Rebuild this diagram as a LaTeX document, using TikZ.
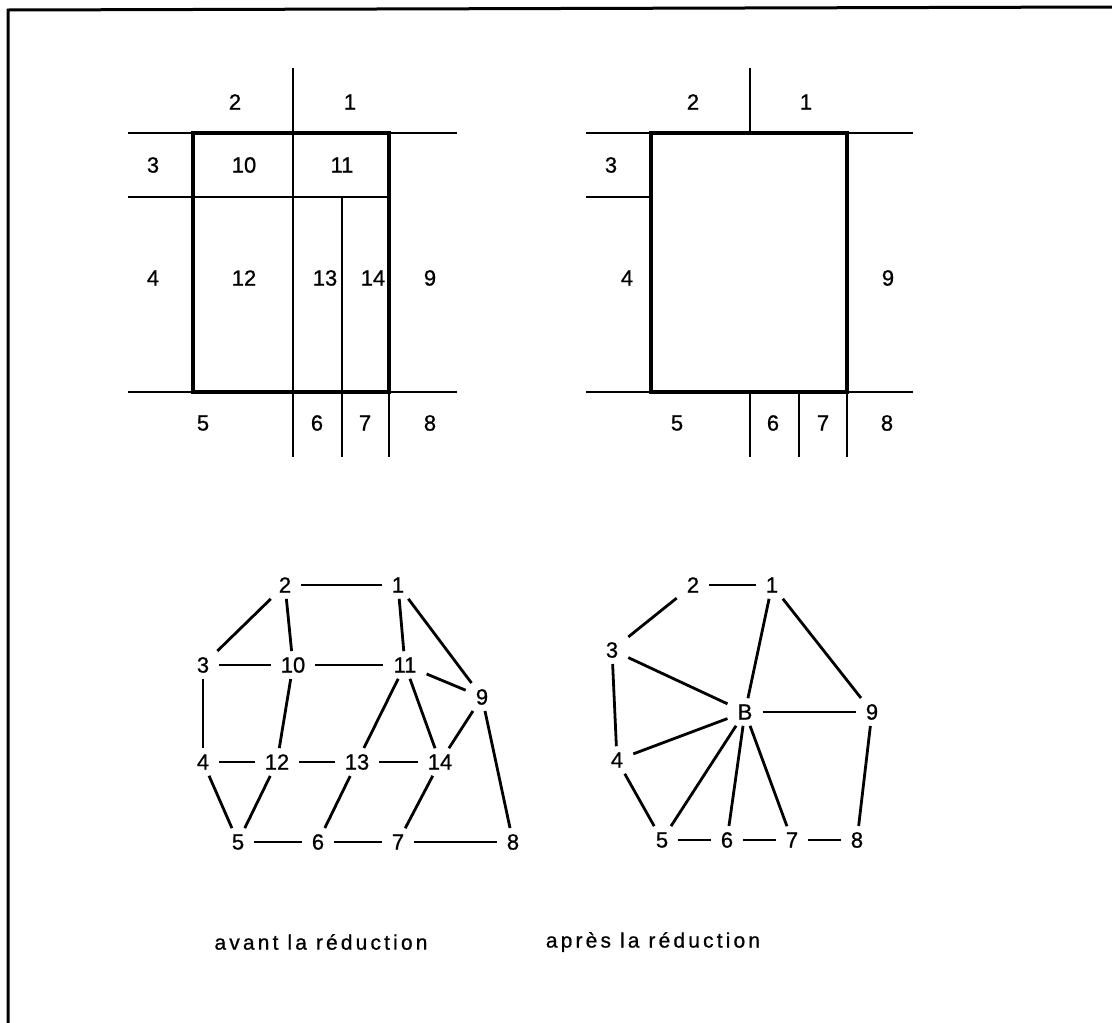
\documentclass[tikz,border=0pt]{standalone}
\usepackage{fontspec}
\setmainfont{Liberation Sans}
\begin{document}
\begin{tikzpicture}[
x=1pt, y=-1pt,
every node/.style={font=\fontsize{22}{26}\selectfont\addfontfeature{FakeBold=0.8}},
frame/.style={line width=3pt},
wall/.style={line width=2pt},
block/.style={line width=3.4pt},
vertex/.style={inner xsep=10pt, inner ysep=6pt},
link/.style={line width=2.8pt},
caption/.style={font=\fontsize{21}{25}\selectfont\addfontfeature{LetterSpace=15,FakeBold=0.8}}
]
\useasboundingbox (0,0) rectangle (1112,1023);
\draw[frame] (8,1023) -- (8,10) -- (1112,7);

% plan avant
\draw[wall] (128,133) -- (457,133);
\draw[wall] (128,197) -- (389,197);
\draw[wall] (128,392) -- (457,392);
\draw[wall] (293,68) -- (293,457);
\draw[wall] (342,197) -- (342,457);
\draw[wall] (389,392) -- (389,457);
\draw[block] (193,133) rectangle (389,392);
\node (p2) at (235,102) {2};
\node (p1) at (350,102) {1};
\node (p3) at (153,165) {3};
\node (p10) at (244,165) {10};
\node (p11) at (342,165) {11};
\node (p4) at (153,278) {4};
\node (p12) at (244,278) {12};
\node (p13) at (325,278) {13};
\node (p14) at (373,278) {14};
\node (p9) at (430,278) {9};
\node (p5) at (203,423) {5};
\node (p6) at (317,423) {6};
\node (p7) at (365,423) {7};
\node (p8) at (430,423) {8};

% plan apres
\draw[wall] (750,68) -- (750,133);
\draw[wall] (586,133) -- (913,133);
\draw[wall] (586,197) -- (651,197);
\draw[wall] (586,392) -- (913,392);
\draw[wall] (750,392) -- (750,457);
\draw[wall] (799,392) -- (799,457);
\draw[wall] (847,392) -- (847,457);
\draw[block] (651,133) rectangle (847,392);
\node (q2) at (693,102) {2};
\node (q1) at (806,102) {1};
\node (q3) at (611,165) {3};
\node (q4) at (627,278) {4};
\node (q9) at (888,278) {9};
\node (q5) at (677,423) {5};
\node (q6) at (773,423) {6};
\node (q7) at (823,423) {7};
\node (q8) at (887,423) {8};

% graphe avant
\node[vertex] (a2) at (285,585) {2};
\node[vertex] (a1) at (398,585) {1};
\node[vertex] (a3) at (203,665) {3};
\node[vertex] (a10) at (293,665) {10};
\node[vertex] (a11) at (405,665) {11};
\node[vertex] (a9) at (482,697) {9};
\node[vertex] (a4) at (203,762) {4};
\node[vertex] (a12) at (277,762) {12};
\node[vertex] (a13) at (357,762) {13};
\node[vertex] (a14) at (440,762) {14};
\node[vertex] (a5) at (238,842) {5};
\node[vertex] (a6) at (318,842) {6};
\node[vertex] (a7) at (398,842) {7};
\node[vertex] (a8) at (513,842) {8};

\draw[link] (a2) -- (a1);
\draw[link] (a2) -- (a3);
\draw[link] (a2) -- (a10);
\draw[link] (a1) -- (a11);
\draw[link] (a1) -- (a9);
\draw[link] (a3) -- (a10);
\draw[link] (a10) -- (a11);
\draw[link] (a11) -- (a9);
\draw[link] (a3) -- (a4);
\draw[link] (a10) -- (a12);
\draw[link] (a11) -- (a13);
\draw[link] (a11) -- (a14);
\draw[link] (a9) -- (a14);
\draw[link] (a9) -- (a8);
\draw[link] (a4) -- (a12);
\draw[link] (a12) -- (a13);
\draw[link] (a13) -- (a14);
\draw[link] (a4) -- (a5);
\draw[link] (a12) -- (a5);
\draw[link] (a13) -- (a6);
\draw[link] (a14) -- (a7);
\draw[link] (a5) -- (a6);
\draw[link] (a6) -- (a7);
\draw[link] (a7) -- (a8);

% graphe apres
\node[vertex] (b2) at (693,585) {2};
\node[vertex] (b1) at (772,585) {1};
\node[vertex] (b3) at (612,650) {3};
\node[vertex] (bB) at (745,712) {B};
\node[vertex] (b9) at (872,712) {9};
\node[vertex] (b4) at (617,760) {4};
\node[vertex] (b5) at (662,840) {5};
\node[vertex] (b6) at (727,840) {6};
\node[vertex] (b7) at (792,840) {7};
\node[vertex] (b8) at (857,840) {8};

\draw[link] (b2) -- (b1);
\draw[link] (b2) -- (b3);
\draw[link] (b1) -- (bB);
\draw[link] (b1) -- (b9);
\draw[link] (b3) -- (bB);
\draw[link] (b3) -- (b4);
\draw[link] (bB) -- (b9);
\draw[link] (bB) -- (b4);
\draw[link] (bB) -- (b5);
\draw[link] (bB) -- (b6);
\draw[link] (bB) -- (b7);
\draw[link] (b9) -- (b8);
\draw[link] (b4) -- (b5);
\draw[link] (b5) -- (b6);
\draw[link] (b6) -- (b7);
\draw[link] (b7) -- (b8);

\node[caption] (avant) at (321,942) {avant la réduction};
\node[caption] (apres) at (653,942) {après la réduction};
\end{tikzpicture}
\end{document}
